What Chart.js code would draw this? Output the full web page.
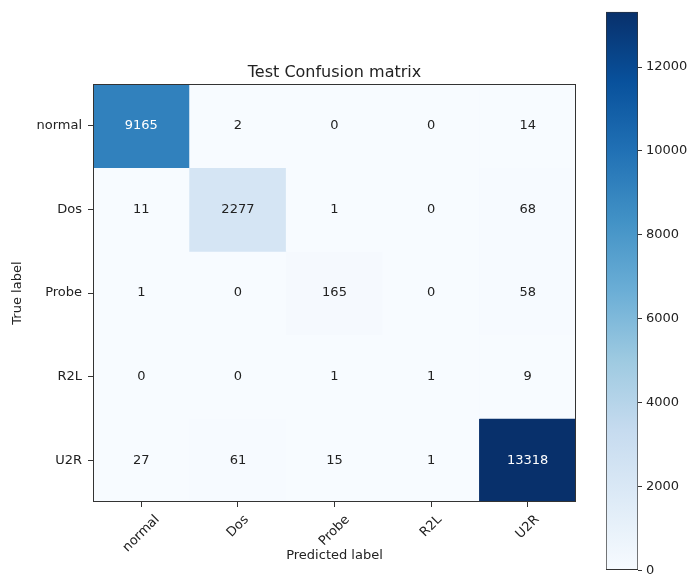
<!DOCTYPE html>
<html>
<head>
<meta charset="utf-8">
<script src="https://cdn.jsdelivr.net/npm/chart.js@4.4.1/dist/chart.umd.min.js"></script>
<style>
  html, body { margin: 0; padding: 0; background: #ffffff; }
  #wrap { position: relative; width: 688px; height: 582px; }
  .box { position: absolute; top: 0; height: 582px; }
</style>
</head>
<body>
<div id="wrap">
  <div class="box" style="left:0;width:688px;"><canvas id="matrix"></canvas></div>
  <div class="box" style="left:560px;width:128px;"><canvas id="colorbar"></canvas></div>
</div>
<script>
// Class names on both axes
const predictedLabels = ['normal', 'Dos', 'Probe', 'R2L', 'U2R'];
const trueLabels = ['normal', 'Dos', 'Probe', 'R2L', 'U2R'];

// Counts per true-label row (columns follow predictedLabels)
const rowNormal = [9165, 2, 0, 0, 14];
const rowDos = [11, 2277, 1, 0, 68];
const rowProbe = [1, 0, 165, 0, 58];
const rowR2L = [0, 0, 1, 1, 9];
const rowU2R = [27, 61, 15, 1, 13318];

// Colour bar tick values
const colorbarTicks = [0, 2000, 4000, 6000, 8000, 10000, 12000];

const rows = [rowNormal, rowDos, rowProbe, rowR2L, rowU2R];
const vmax = Math.max(...rows.flat());

// Sequential "Blues" colour map anchors
const bluesStops = [
  [0.0, '#f7fbff'], [0.125, '#deebf7'], [0.25, '#c6dbef'], [0.375, '#9ecae1'],
  [0.5, '#6baed6'], [0.625, '#4292c6'], [0.75, '#2171b5'], [0.875, '#08519c'], [1.0, '#08306b']
];
function hexToRgb(h) {
  return [parseInt(h.slice(1, 3), 16), parseInt(h.slice(3, 5), 16), parseInt(h.slice(5, 7), 16)];
}
function blues(t) {
  t = Math.max(0, Math.min(1, t));
  for (let i = 1; i < bluesStops.length; i++) {
    const [t1, c1] = bluesStops[i];
    if (t <= t1) {
      const [t0, c0] = bluesStops[i - 1];
      const f = (t - t0) / (t1 - t0);
      const a = hexToRgb(c0), b = hexToRgb(c1);
      const m = a.map((v, k) => Math.round(v + (b[k] - v) * f));
      return `rgb(${m[0]},${m[1]},${m[2]})`;
    }
  }
  return bluesStops[bluesStops.length - 1][1];
}

const FONT = 'DejaVu Sans';
const INK = '#222222';
const SPINE = '#333333';

// One floating-bar dataset per true-label row; each bar spans its row band
const datasets = rows.map((vals, r) => ({
  label: trueLabels[r],
  data: vals.map(() => [r - 0.5, r + 0.5]),
  counts: vals,
  backgroundColor: vals.map(v => blues(v / vmax)),
  borderWidth: 0,
  grouped: false,
  barPercentage: 1,
  categoryPercentage: 1
}));

// Writes counts in cells, draws the axes frame and the rotated class names
const matrixDecor = {
  id: 'matrixDecor',
  afterDatasetsDraw(chart) {
    const ctx = chart.ctx;
    ctx.save();
    ctx.font = `13px "${FONT}"`;
    ctx.textAlign = 'center';
    ctx.textBaseline = 'middle';
    chart.data.datasets.forEach((ds, i) => {
      chart.getDatasetMeta(i).data.forEach((el, j) => {
        const v = ds.counts[j];
        ctx.fillStyle = v > vmax / 2 ? '#ffffff' : INK;
        ctx.fillText(String(v), el.x, (el.y + el.base) / 2);
      });
    });
    const a = chart.chartArea;
    ctx.strokeStyle = SPINE;
    ctx.lineWidth = 1;
    ctx.strokeRect(Math.round(a.left) + 0.5, Math.round(a.top) + 0.5,
      Math.round(a.right - a.left) - 1, Math.round(a.bottom - a.top) - 1);
    ctx.restore();
  },
  afterDraw(chart) {
    const ctx = chart.ctx;
    const xs = chart.scales.x;
    const top = chart.chartArea.bottom + 5 + 6;
    ctx.save();
    ctx.font = `13px "${FONT}"`;
    ctx.fillStyle = INK;
    ctx.textAlign = 'center';
    ctx.textBaseline = 'middle';
    predictedLabels.forEach((lab, i) => {
      const x = xs.getPixelForValue(i);
      const w = ctx.measureText(lab).width;
      const d = (w + 13) * Math.SQRT1_2 / 2;
      ctx.save();
      ctx.translate(x, top + d);
      ctx.rotate(-Math.PI / 4);
      ctx.fillText(lab, 0, 0);
      ctx.restore();
    });
    ctx.restore();
  }
};

new Chart(document.getElementById('matrix'), {
  type: 'bar',
  data: { labels: predictedLabels, datasets },
  options: {
    responsive: true,
    maintainAspectRatio: false,
    animation: false,
    layout: { padding: { left: 0, right: 112, top: 0, bottom: 0 } },
    plugins: {
      legend: { display: false },
      tooltip: { enabled: false },
      title: {
        display: true,
        fullSize: false,
        text: 'Test Confusion matrix',
        color: INK,
        font: { family: FONT, size: 16, weight: 'normal' },
        padding: { top: 63, bottom: 2 }
      }
    },
    scales: {
      x: {
        type: 'category',
        offset: true,
        afterFit: s => { s.height = 80; },
        ticks: { display: false },
        grid: { offset: false, drawOnChartArea: false, drawTicks: true, tickLength: 5, color: SPINE, tickColor: SPINE },
        border: { display: false },
        title: {
          display: true, text: 'Predicted label', color: INK,
          font: { family: FONT, size: 13 }, padding: { top: 0, bottom: 19 }
        }
      },
      y: {
        type: 'linear',
        reverse: true,
        min: -0.5,
        max: 4.5,
        afterBuildTicks: s => { s.ticks = trueLabels.map((_, i) => ({ value: i })); },
        afterFit: s => { s.width = 93; },
        ticks: {
          callback: v => trueLabels[v],
          color: INK,
          font: { family: FONT, size: 13 },
          padding: 6
        },
        grid: { drawOnChartArea: false, drawTicks: true, tickLength: 5, color: SPINE, tickColor: SPINE },
        border: { display: false },
        title: {
          display: true, text: 'True label', color: INK,
          font: { family: FONT, size: 13 }, padding: { top: 10, bottom: 0 }
        }
      }
    }
  },
  plugins: [matrixDecor]
});

// Colour bar: one floating bar from 0 to the largest count, filled with the colour map
new Chart(document.getElementById('colorbar'), {
  type: 'bar',
  data: {
    labels: [''],
    datasets: [{
      data: [[0, vmax]],
      backgroundColor: c => {
        const ch = c.chart;
        if (!ch.chartArea) return '#ffffff';
        const ys = ch.scales.y;
        const g = ch.ctx.createLinearGradient(0, ys.getPixelForValue(0), 0, ys.getPixelForValue(vmax));
        bluesStops.forEach(([t, col]) => g.addColorStop(t, col));
        return g;
      },
      borderColor: SPINE,
      borderWidth: 1,
      borderSkipped: false,
      barPercentage: 1,
      categoryPercentage: 1
    }]
  },
  options: {
    responsive: true,
    maintainAspectRatio: false,
    animation: false,
    layout: { padding: { left: 46, right: 0, top: 10, bottom: 7 } },
    plugins: { legend: { display: false }, tooltip: { enabled: false } },
    scales: {
      x: { display: false },
      y: {
        position: 'right',
        min: 0,
        max: vmax,
        afterBuildTicks: s => { s.ticks = colorbarTicks.map(v => ({ value: v })); },
        afterFit: s => { s.width = 50; },
        ticks: { color: INK, font: { family: FONT, size: 13 }, padding: 4, callback: v => String(v) },
        grid: { drawOnChartArea: false, drawTicks: true, tickLength: 4, color: SPINE, tickColor: SPINE },
        border: { display: false }
      }
    }
  }
});
</script>
</body>
</html>
